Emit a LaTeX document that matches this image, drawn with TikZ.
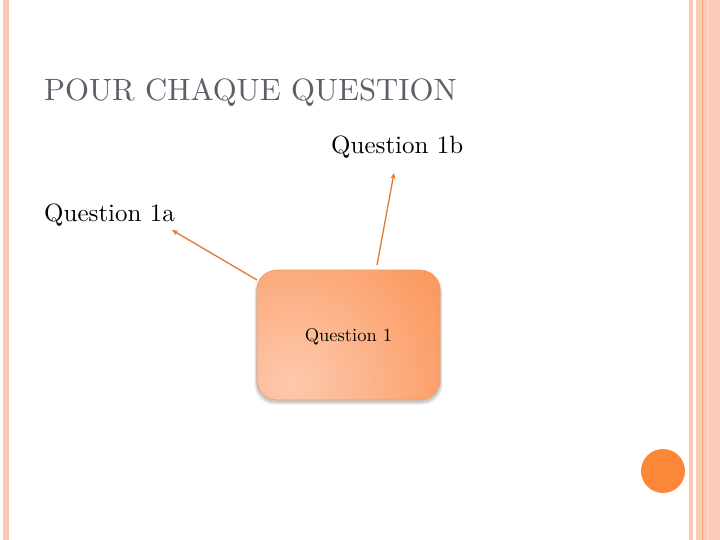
\documentclass[tikz,border=0pt]{standalone}
\usepackage{fontspec}
\setmainfont{lmroman10-regular.otf}
\usetikzlibrary{arrows.meta}
\definecolor{stripe}{HTML}{F9C7B5}
\definecolor{stripeb}{HTML}{FDCCB8}
\definecolor{stripeline}{HTML}{F3A678}
\definecolor{titlegray}{HTML}{5A5F68}
\definecolor{arrcol}{HTML}{E3782F}
\definecolor{boxin}{HTML}{FEC9AE}
\definecolor{boxout}{HTML}{FA9050}
\definecolor{boxedge}{HTML}{F09A68}
\definecolor{dotcol}{HTML}{FD8738}
\tikzset{
  lbl/.style={anchor=base west, inner sep=0pt, font=\fontsize{25}{30}\selectfont},
  arr/.style={draw=arrcol, line width=1.3pt, -{Stealth[length=6pt,width=5pt]}},
  qbox/.style={inner sep=0pt, minimum width=183pt, minimum height=130pt, font=\fontsize{18.5}{22}\selectfont}
}
\begin{document}
\begin{tikzpicture}[x=1pt,y=-1pt]
\useasboundingbox (0,0) rectangle (720,540);
\fill[white] (0,0) rectangle (720,540);
% side stripes
\fill[stripe] (3,0) rectangle (9,540);
\fill[stripe] (689,0) rectangle (692.5,540);
\fill[stripeb] (696,0) rectangle (720,540);
\fill[stripeline] (701.5,0) rectangle (703,540);
\fill[stripe!70!white] (707,0) rectangle (709,540);
% title
\node[anchor=base west, inner sep=0pt, text=titlegray, font=\fontsize{30.8}{36}\selectfont] (title) at (44,101) {POUR CHAQUE QUESTION};
% labels
\node[lbl] (q1b) at (331,154) {Question 1b};
\node[lbl] (q1a) at (44,222) {Question 1a};
% box shadow
\foreach \o/\op in {5/0.025,4/0.035,3/0.045,2/0.055,1/0.065}
  \fill[black, opacity=\op, rounded corners=20pt] (257-\o*0.6,273-\o*0.4) rectangle (440+\o*0.6,402+\o*0.6);
% box shading
\begin{scope}
  \clip[rounded corners=20pt] (257,270) rectangle (440,400);
  \shade[inner color=boxin, outer color=boxout] (292,382) circle (205);
\end{scope}
\draw[boxedge, line width=0.6pt, rounded corners=20pt] (257,270) rectangle (440,400);
\node[qbox] (q1) at (348.5,337) {Question 1};
% arrows
\coordinate (s1) at (257,280);
\coordinate (e1) at (172,230);
\coordinate (s2) at (377,265);
\coordinate (e2) at (394,173);
\draw[arr] (s1) -- (e1);
\draw[arr] (s2) -- (e2);
% dot
\fill[dotcol] (663,471) circle (22) node (dot) {};
\end{tikzpicture}
\end{document}
